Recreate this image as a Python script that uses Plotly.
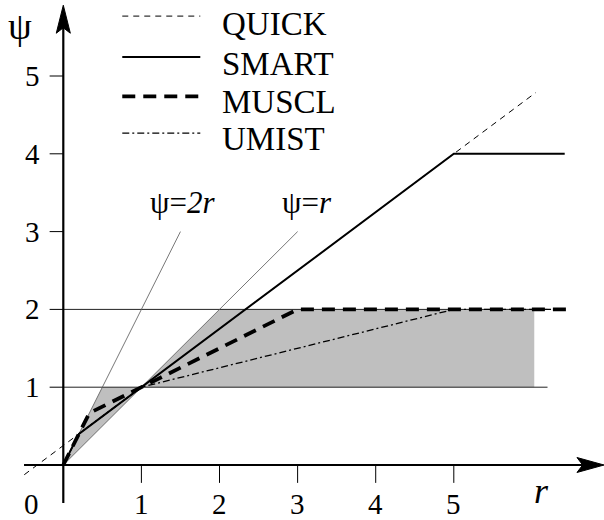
import plotly.graph_objects as go

# Flux-limiter curves psi(r): breakpoints of each piecewise-linear limiter
quick_r = [-0.5, 6.05]
quick_psi = [-0.125, 4.7875]
smart_r = [0, 0.2, 5, 6.42]
smart_psi = [0, 0.4, 4, 4]
muscl_r = [0, 1 / 3, 3, 6.53]
muscl_psi = [0, 2 / 3, 2, 2]
umist_r = [0, 0.2, 1, 5, 6.4]
umist_psi = [0, 0.4, 1, 2, 2]

# Reference lines psi = 2r and psi = r
line2r_r = [0, 1.5]
line2r_psi = [0, 3]
line1r_r = [0, 3]
line1r_psi = [0, 3]

# Second-order TVD region (shaded)
tvd_low_r = [0, 0.5, 1, 0]
tvd_low_psi = [0, 1, 1, 0]
tvd_high_r = [1, 2, 6.03, 6.03, 1]
tvd_high_psi = [1, 2, 2, 1, 1]

# Horizontal bounds psi = 1 and psi = 2
bound_levels = [1, 2]
bound_end = 6.2

# Axis ticks
x_ticks = [1, 2, 3, 4, 5]
y_ticks = [1, 2, 3, 4, 5]

legend_names = ["QUICK", "SMART", "MUSCL", "UMIST"]

FONT = "'Liberation Serif', 'Times New Roman', Times, serif"
X_RANGE = [-0.8105, 6.923]
Y_RANGE = [-0.707, 5.977]

styles = {
    "QUICK": dict(color="black", width=1, dash="6px,5px"),
    "SMART": dict(color="black", width=2),
    "MUSCL": dict(color="black", width=3.8, dash="13px,8px"),
    "UMIST": dict(color="black", width=1.3, dash="7px,3px,2px,3px"),
}

fig = go.Figure()

# shaded region
for rr, pp in [(tvd_low_r, tvd_low_psi), (tvd_high_r, tvd_high_psi)]:
    fig.add_trace(go.Scatter(x=rr, y=pp, mode="lines", fill="toself",
                             fillcolor="#bfbfbf", line=dict(width=0),
                             hoverinfo="skip", showlegend=False))

# psi = 1 and psi = 2 bounds
for lv in bound_levels:
    fig.add_trace(go.Scatter(x=[0, bound_end], y=[lv, lv], mode="lines",
                             line=dict(color="#222", width=1),
                             hoverinfo="skip", showlegend=False))

# thin guide lines
for rr, pp in [(line2r_r, line2r_psi), (line1r_r, line1r_psi)]:
    fig.add_trace(go.Scatter(x=rr, y=pp, mode="lines",
                             line=dict(color="#555", width=0.8),
                             hoverinfo="skip", showlegend=False))

# limiter curves
series = {
    "UMIST": (umist_r, umist_psi),
    "QUICK": (quick_r, quick_psi),
    "SMART": (smart_r, smart_psi),
    "MUSCL": (muscl_r, muscl_psi),
}
for name, (rr, pp) in series.items():
    fig.add_trace(go.Scatter(x=rr, y=pp, mode="lines", name=name,
                             line=styles[name], showlegend=False))

shapes = []
annotations = []

# axes with arrow heads
shapes.append(dict(type="line", x0=-0.503, x1=6.7, y0=0, y1=0,
                   line=dict(color="black", width=2.2)))
shapes.append(dict(type="line", x0=0, x1=0, y0=-0.488, y1=5.7,
                   line=dict(color="black", width=2.2)))
shapes.append(dict(type="path",
                   path="M 6.923 0 L 6.577 0.096 L 6.65 0 L 6.577 -0.096 Z",
                   fillcolor="black", line=dict(color="black", width=1)))
shapes.append(dict(type="path",
                   path="M 0 5.91 L 0.09 5.55 L 0 5.62 L -0.09 5.55 Z",
                   fillcolor="black", line=dict(color="black", width=1)))

# ticks and tick labels
TICK_FONT = dict(family=FONT, size=29, color="black")
for t in x_ticks:
    shapes.append(dict(type="line", x0=t, x1=t, y0=0, y1=-0.23,
                       line=dict(color="black", width=1)))
    annotations.append(dict(x=t, y=-0.5, text=str(t), showarrow=False,
                            font=TICK_FONT))
for t in y_ticks:
    shapes.append(dict(type="line", x0=-0.175, x1=0, y0=t, y1=t,
                       line=dict(color="black", width=1)))
    annotations.append(dict(x=-0.39, y=t, text=str(t), showarrow=False,
                            font=TICK_FONT))
annotations.append(dict(x=-0.41, y=-0.5, text="0", showarrow=False,
                        font=TICK_FONT))

# axis titles
annotations.append(dict(x=-0.55, y=5.64, text="ψ", showarrow=False,
                        font=dict(family=FONT, size=38, color="black")))
annotations.append(dict(x=6.12, y=-0.34, text="<i>r</i>", showarrow=False,
                        font=dict(family=FONT, size=36, color="black")))

# guide-line labels
annotations.append(dict(x=1.53, y=3.38, text="ψ=<i>2r</i>", showarrow=False,
                        font=dict(family=FONT, size=31, color="black")))
annotations.append(dict(x=3.12, y=3.38, text="ψ=<i>r</i>", showarrow=False,
                        font=dict(family=FONT, size=31, color="black")))

# legend
leg_line_y = [5.77, 5.244, 4.737, 4.267]
leg_text_y = [5.668, 5.16, 4.666, 4.19]
for name, ly, ty in zip(legend_names, leg_line_y, leg_text_y):
    st = dict(styles[name])
    shapes.append(dict(type="line", x0=0.755, x1=1.754, y0=ly, y1=ly,
                       line=st))
    annotations.append(dict(x=2.0, y=ty, text=name, showarrow=False,
                            xanchor="left",
                            font=dict(family=FONT, size=33, color="black")))

fig.update_layout(
    width=604, height=520,
    margin=dict(l=0, r=0, t=0, b=0),
    paper_bgcolor="white", plot_bgcolor="white",
    font=dict(family=FONT),
    xaxis=dict(range=X_RANGE, visible=False, fixedrange=True),
    yaxis=dict(range=Y_RANGE, visible=False, fixedrange=True),
    shapes=shapes, annotations=annotations,
    showlegend=False,
)

fig.write_html("out.html")
